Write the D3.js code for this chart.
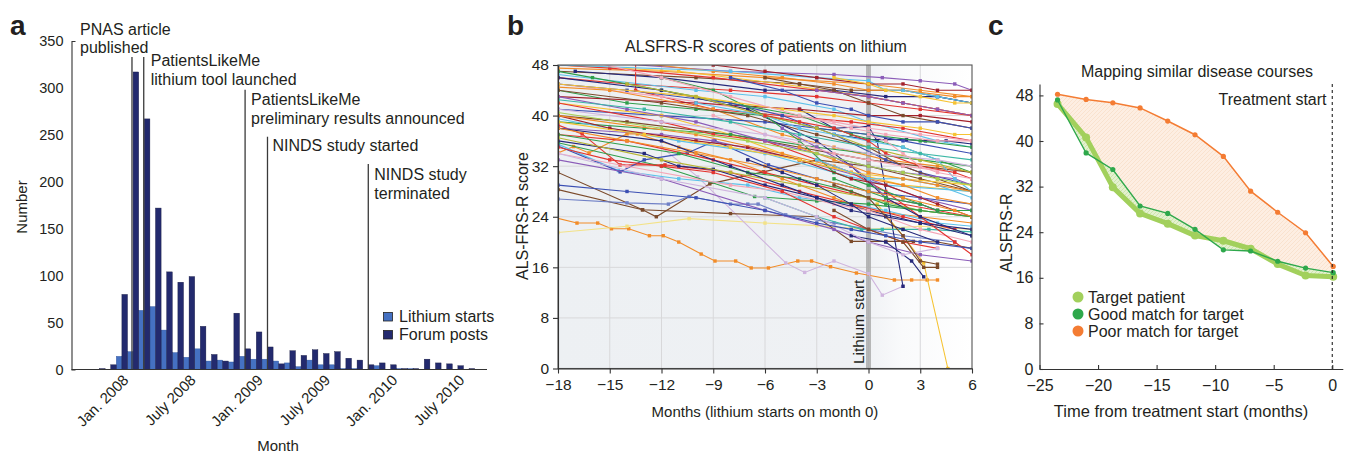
<!DOCTYPE html>
<html><head><meta charset="utf-8">
<script src="https://cdn.jsdelivr.net/npm/d3@7"></script>
<style>
body{margin:0;background:#fff}
svg{display:block}
text{font-family:"Liberation Sans",Arial,Helvetica,sans-serif;fill:#231f20}
</style>
</head><body>
<svg id="c" width="1346" height="454"></svg>
<script>
// ---------------- Panel a data ----------------
const monthKeys = ["2007-10","2007-11","2007-12",
 "2008-01","2008-02","2008-03","2008-04","2008-05","2008-06","2008-07","2008-08","2008-09","2008-10","2008-11","2008-12",
 "2009-01","2009-02","2009-03","2009-04","2009-05","2009-06","2009-07","2009-08","2009-09","2009-10","2009-11","2009-12",
 "2010-01","2010-02","2010-03","2010-04","2010-05","2010-06","2010-07"];
const lithiumStarts = [0,0,14,19,63,67,42,18,13,22,9,10,8,14,11,11,9,7,3,10,5,5,1,1,0,4,0,1,1,0,0,0,0,0];
const forumPosts    = [1,5,80,317,267,172,104,93,99,46,16,9,60,22,40,24,6,20,15,21,17,19,12,10,5,7,5,1,1,11,7,6,4,1];
const countTicks = [0,50,100,150,200,250,300,350];
const monthTickKeys = ["2008-01","2008-07","2009-01","2009-07","2010-01","2010-07"];
const monthTickLabels = ["Jan. 2008","July 2008","Jan. 2009","July 2009","Jan. 2010","July 2010"];
const eventLabels = [["PNAS article","published"],["PatientsLikeMe","lithium tool launched"],["PatientsLikeMe","preliminary results announced"],["NINDS study started"],["NINDS study","terminated"]];
const eventMonth = [3.4, 4.45, 13.5, 15.5, 24.5];   // fractional month index
const eventLevel = [333, 333, 298, 248, 219];        // top of marker line (count units)
const legendA = ["Lithium starts","Forum posts"];

// ---------------- Panel b data ----------------
const monthTicksB = [-18,-15,-12,-9,-6,-3,0,3,6];
const scoreTicksB = [0,8,16,24,32,40,48];
const patientSeries = [
 [[-18.1,23.8],[-16.9,23],[-15.7,23],[-14.9,22.1],[-13.9,22.1],[-12.7,21],[-11.9,21],[-11,20],[-9.7,18.1],[-8.9,17],[-7.7,17],[-6.8,15.9],[-5.8,15.9],[-4.1,17],[-3.3,17],[-2.2,16.1],[-0.7,15.1],[1.5,14],[2.5,14],[3.4,14],[4,14]],
 [[-18,21.5],[-14,22.5],[-10.4,23.7],[-6,23],[-3,22.6],[0,22],[3,22.5],[6,22]],
 [[0.5,26],[2,21],[3.2,16.7],[4.6,0]],
 [[-12,35],[-9.9,30.3],[-4.8,16.7],[-3.7,15.2],[-2,17],[0,15],[0.8,11.6],[2,13]],
 [[-18,31],[-13.1,25.1],[-12.3,24],[-9.2,29.2],[-6.1,31.1],[-3,33],[0,32],[3,30],[6,28]],
 [[-18,28.3],[-13.1,25.1],[-8,24.5],[-3,24],[-1,20.1],[1,20.1],[2.6,20.1],[4,20],[6,19]],
 [[-18,34.1],[-17.1,35.1],[-16.2,34.1],[-14,37.1],[-13.4,37.1],[-11,35],[-8,33],[-5,30],[-2,27],[0,25],[3,24],[6,23]],
 [[-18,35.5],[-14.5,31.3],[-11,30],[-7,29],[-4,27],[-1,26],[1,25],[4,23],[6,22.5]],
 [[-18,38.5],[-16.6,37.1],[-14.4,32.2],[-11.8,32.2],[-8,31],[-4,28],[-1,26],[2,24],[5,22]],
 [[-18,35.7],[-12,32],[-6.6,27.2],[-3,26.5],[0,26],[3,25],[6,24]],
 [[-18,35.2],[-14.4,31.1],[-13,33],[-10.5,34.1],[-8.9,36],[-5.8,32.2],[-3,30],[0,28],[3,27],[6,26]],
 [[-18,26.8],[-14,26.2],[-11.6,26],[-10.4,27.2],[-8,26],[-7,26],[-6.4,26],[-4.8,24.3],[-2,23],[0,22],[2,21],[5,20]],
 [[-4,41],[-2,38],[0,38.3],[0.5,36],[2,13]],
 [[-2,37],[0,36.2],[1,36.2],[2.2,36.2],[3.3,36],[4.5,36],[6,35.5]],
 [[-6,27],[-3,24],[-0.4,22],[0.8,22],[2,22],[3.5,22],[6,21.6]],
 [[-18,47.5],[-12,47],[-6,46],[0,45],[3,44],[6,43]],
 [[-18,47],[-10,46],[-4,45],[-1,44],[2,44],[4,43],[6,42]],
 [[-18,46],[-14,45],[-8,44],[-3,43],[0,42],[3,41],[6,40]],
 [[-16,48.5],[-8,47],[-2,46.5],[0.8,46],[3,45.5],[5,45],[6,44]],
 [[-18,48],[-11,47],[-5,45],[0,43],[2,42],[6,40]],
 [[-18,46.5],[-10,44],[-6,43],[-2,41],[0,39],[4,36],[6,35]],
 [[-17,47],[-12,46],[-6,44],[-2,44],[1,43],[4,43],[6,42]],
 [[-18,44],[-14,42],[-10,41],[-6,40],[-3,38],[0,37],[3,36],[6,35]],
 [[-13.5,48.5],[-13.5,44],[-9,41],[-5,40],[-1,39],[2,38],[6,36]],
 [[-18,45],[-12,43],[-7,41],[-2,39],[0,38],[3,37],[6,36]],
 [[-18,43],[-10,42],[-4,41],[0,40],[3,40],[6,39]],
 [[-18,44.5],[-15,44],[-9,41],[-5,37],[-2,35],[1,33],[4,32],[6,31]],
 [[-18,41],[-12,40],[-6,39],[-3,38],[0,37],[2,36],[6,34]],
 [[-18,40],[-14,39],[-8,37],[-4,35],[0,33],[3,32],[6,31]],
 [[-18,42],[-12,40],[-8,37],[-4,33],[-1,31],[2,29],[6,28]],
 [[-18,39],[-13,38],[-8,37],[-3,35],[0,34],[3,33],[6,32]],
 [[-18,39.5],[-15,38],[-11,36],[-6,34],[-2,31],[1,29],[6,28]],
 [[-18,38],[-12,37],[-9,36],[-4,33],[0,30],[3,27],[6,25]],
 [[-18,37],[-14,36],[-9,33],[-6,31],[-3,29],[0,27],[4,25],[6,24]],
 [[-18,36],[-13,34],[-11,32],[-9,31.5],[-6,29],[-3,27],[0,25],[3,23],[6,21]],
 [[-18,36.5],[-12,33],[-8,31],[-4,29],[0,27],[3,25],[6,24]],
 [[-18,34],[-14,32],[-8,29],[-5,28],[-2,26],[0,25],[3,22],[6,20]],
 [[-18,33],[-12,30],[-6,25],[-2,22],[0,20],[3,18],[6,17]],
 [[-18,48],[-15,47.5],[-9,46],[-3,44],[0,43],[2,42],[4,41],[6,40]],
 [[-18,47],[-16,46],[-12,44],[-8,42],[-4,40],[-1,37],[2,35],[4,33],[6,31]],
 [[-18,45],[-14,44],[-8,42],[-5,40],[-2,37],[1,33],[3,31],[6,29]],
 [[-14,48.5],[-9,47],[-5,46],[-2,45],[0,44],[2,44],[5,43],[6,43]],
 [[-18,48],[-8,47],[-3,46],[0,45.5],[1,44],[2,44],[4,43],[6,42]],
 [[-18,44],[-12,42],[-7,40],[-3,37],[0,35],[2,32],[4,30],[6,28]],
 [[-18,42],[-12,39],[-9,37],[-6,36],[-3,33],[-1,31],[1,28],[3,24],[5,20],[6,18]],
 [[-18,46],[-12,44],[-7,41],[-3,36],[-1,32],[1,27],[3,24],[6,21]],
 [[-12,46],[-9,44],[-6,40],[-4,36],[-2,31],[0,29],[2,27],[4,25],[6,25]],
 [[-18,45],[-10,43],[-5,41],[-2,40],[0,39],[3,38],[5,37],[6,37]],
 [[-18,43],[-14,41],[-10,39],[-6,36],[-3,34],[0,32],[2,31],[5,30],[6,29]],
 [[-16,48.5],[-12,46],[-8,43],[-4,40],[-1,38],[1,37],[4,36],[6,36]],
 [[-18,40],[-15,38],[-10,36],[-7,35],[-4,33],[-1,30],[1,29],[4,26],[6,24]],
 [[-10,42],[-6,40],[-4,38],[-2,37],[0,36],[2,35],[4,33],[5,30],[6,28]],
 [[-6,46],[-4,45],[-2,44],[0,42],[2,40],[4,39],[6,38]],
 [[-8,46],[-5,44],[-3,42],[-1,41],[0,40],[2,39],[4,39],[6,38]],
 [[-18,40],[-10,37],[-5,34],[-2,32],[0,30],[2,29],[4,27],[6,26]],
 [[-18,37],[-11,34],[-7,31],[-4,30],[-1,28],[1,26],[3,25],[6,24]],
 [[-18,35],[-15,33],[-12,32],[-9,31],[-5,28],[-2,24],[0,22],[2,20],[4,19]],
 [[-5,38],[-3,35],[-1,32],[0,30],[1,27],[3,26],[4,25]],
 [[-2,25],[0,22],[2,20],[3.2,16],[4,16]],
 [[-1,21],[1,20],[2.5,17],[3.2,14.5]],
 [[-18,39],[-13,37],[-8,35],[-4,33],[-1,31],[2,30],[6,29]],
 [[-3,33],[0,30],[2,30],[4,29],[6,27]],
 [[-14,45],[-10,43],[-6,40],[-3,38],[0,35],[3,33],[6,31]],
 [[-9,40],[-6,37],[-2,34],[0,33],[2,32],[5,31]],
 [[-18,38],[-12,36],[-8,32],[-5,29],[-3,27],[-1,25],[1,24],[3,23],[6,22]],
 [[-18,34],[-12,30],[-6,27],[-3,24],[0,20],[2,18],[4,19]],
 [[-6,40],[-4,39],[-2,38],[0,36],[1,34],[3,32],[5,31],[6,30]],
 [[-2,30],[0,28],[1,27],[3,26],[4,25],[6,25]],
 [[-4,35],[-2,33],[0,31],[2,30],[4,29],[6,28]],
 [[-18,29],[-14,28],[-10,27],[-6,25],[-3,23],[-1,22],[1,21],[3,20],[6,19]],
 [[-9,48],[-6,47],[-3,46],[0,45],[2,45],[4,44],[6,44]],
 [[-18,42.5],[-13,41],[-8,39],[-4,37],[0,35],[3,34],[6,33]],
 [[-18,40.5],[-12,38],[-7,36],[-3,34],[0,32],[2,31],[4,30],[6,29]],
 [[-3,44],[0,43],[2,42],[4,41],[6,40]],
 [[-18,38],[-14,36],[-10,34],[-6,32],[-3,30],[0,28],[2,27],[5,25],[6,24]],
 [[0,37],[1,36],[2,34],[3,32],[4,31],[6,30]],
 [[-2,46],[0,45],[1,44],[3,43],[5,42],[6,42]],
 [[-7,33],[-5,31],[-3,29],[-1,26],[0,24],[2,22],[4,20]],
 [[-2,29],[0,27],[2,21],[3,17],[4,16.5]],
 [[-18,41],[-12,39],[-6,37],[0,34],[4,33],[6,32]]
];
const patientColorKey = ["orange","paleyellow","yellow","lilac","brown","brown","orange","ltblue","red","green","blue","slate","navy","navy","teal",
 "orange","brown","red","purple","yellow","ltblue","navy","green","red","pink","darkred","orange","blue","brown","yellow","green","ltblue","purple","red","navy","olive","pink","purple",
 "red","green","blue","orange","ltblue","brown","red","navy","green","yellow","purple","pink","darkred","ltblue","brown","blue","orange","green","red","purple","brown","navy",
 "yellow","ltblue","olive","pink","navy","lilac","red","green","orange","blue","darkred","teal","ltgreen","purple","orange","pink","yellow","navy","brown","lilac"];

// ---------------- Panel c data ----------------
const cMonths = [-23.46,-21.02,-18.74,-16.41,-14.05,-11.72,-9.30,-6.97,-4.66,-2.28,0.08];
const targetScore = [46.5,40.6,31.9,27.3,25.5,23.4,22.5,21.1,18.4,16.4,16.2];
const goodScore   = [47.2,37.9,35.0,28.6,27.3,24.5,20.9,20.7,18.9,17.7,16.9];
const poorScore   = [48.2,47.3,46.7,45.8,43.5,41.1,37.3,31.2,27.5,23.9,18.0];
const monthTicksC = [-25,-20,-15,-10,-5,0];
const scoreTicksC = [0,8,16,24,32,40,48];
const legendC = ["Target patient","Good match for target","Poor match for target"];

// ---------------- drawing ----------------
const svg = d3.select("#c");
const defs = svg.append("defs");

function styleAxis(g, fs){
  g.selectAll(".domain").attr("stroke","#333").attr("stroke-width",1.1);
  g.selectAll(".tick line").attr("stroke","#333").attr("stroke-width",1.1);
  g.selectAll("text").attr("font-size",fs).attr("fill","#231f20")
   .attr("font-family",'"Liberation Sans",Arial,Helvetica,sans-serif');
}
function panelLetter(t,x,y){
  svg.append("text").attr("x",x).attr("y",y).attr("font-size",28).attr("font-weight","bold").text(t);
}

// ===== Panel a =====
(function(){
  const g = svg.append("g");
  const xA = d3.scaleLinear().domain([-2, 35.1]).range([71.5, 487]);
  const yA = d3.scaleLinear().domain([0, 350]).range([369.5, 41]);
  const bw = (xA(1) - xA(0)) / 2;
  const cLight = "#4571c2", cDark = "#232a6e";
  const idx = k => monthKeys.indexOf(k);

  g.selectAll("rect.ls").data(lithiumStarts).join("rect").attr("class","ls")
    .attr("x",(d,i)=>xA(i)).attr("width",bw).attr("y",d=>yA(d)).attr("height",d=>yA(0)-yA(d))
    .attr("fill",cLight).attr("stroke","#2d5299").attr("stroke-width",0.4);
  g.selectAll("rect.fp").data(forumPosts).join("rect").attr("class","fp")
    .attr("x",(d,i)=>xA(i)+bw).attr("width",bw).attr("y",d=>yA(d)).attr("height",d=>yA(0)-yA(d))
    .attr("fill",cDark).attr("stroke","#14173f").attr("stroke-width",0.4);

  const evLayout = [{x:80,dy:[-22,-4]},{dx:7,dy:[9,28]},{dx:6,dy:[15,34]},{dx:5,dy:[14]},{dx:6,dy:[16,35]}];
  eventMonth.forEach((m,i)=>{
    const x = xA(m), top = yA(eventLevel[i]);
    g.append("line").attr("x1",x).attr("x2",x).attr("y1",top).attr("y2",yA(0))
      .attr("stroke","#3a3a3a").attr("stroke-width",1.3);
    const L = evLayout[i];
    eventLabels[i].forEach((t,j)=>{
      g.append("text").attr("x", L.x !== undefined ? L.x : x + L.dx).attr("y", top + L.dy[j])
        .attr("font-size",16).text(t);
    });
  });

  const ya = g.append("g").attr("transform",`translate(${xA(-2)},0)`)
    .call(d3.axisLeft(yA).tickValues(countTicks).tickSizeInner(0).tickSizeOuter(-4).tickPadding(8));
  styleAxis(ya, 14.5);
  g.append("line").attr("x1",xA(-2)).attr("x2",xA(35.1)).attr("y1",yA(0)).attr("y2",yA(0))
    .attr("stroke","#333").attr("stroke-width",1.1);
  monthTickKeys.forEach((k,i)=>{
    const x = xA(idx(k)) + 2;
    g.append("text").attr("transform",`translate(${x},381) rotate(-45)`)
      .attr("text-anchor","end").attr("font-size",15).text(monthTickLabels[i]);
  });
  g.append("text").attr("x",278).attr("y",451).attr("text-anchor","middle").attr("font-size",15).text("Month");
  g.append("text").attr("transform","translate(27,207) rotate(-90)").attr("text-anchor","middle").attr("font-size",15).text("Number");

  [cLight,cDark].forEach((c,i)=>{
    g.append("rect").attr("x",383.5).attr("y",312.5+i*18).attr("width",9).attr("height",8.5)
      .attr("fill",c).attr("stroke","#222").attr("stroke-width",0.8);
    g.append("text").attr("x",399).attr("y",321.5+i*18).attr("font-size",16).text(legendA[i]);
  });
  panelLetter("a",10,35);
})();

// ===== Panel b =====
(function(){
  const g = svg.append("g");
  const xB = d3.scaleLinear().domain([-18,6]).range([558,972]);
  const yB = d3.scaleLinear().domain([0,48]).range([368.5,65]);
  const pal = {red:"#e3342f",darkred:"#a3202a",orange:"#f28c28",yellow:"#f6c333",paleyellow:"#f3e287",
    green:"#2f9e4a",ltgreen:"#a5cf4f",teal:"#3ab7a5",blue:"#3b4fb3",slate:"#7080c6",navy:"#25287a",
    ltblue:"#5cc1ea",purple:"#8b5cb8",lilac:"#cfb4de",pink:"#f4a6b7",brown:"#7b4a2b",olive:"#b8b534"};

  const grad = defs.append("linearGradient").attr("id","bgB").attr("x1",0).attr("x2",1).attr("y1",0).attr("y2",0);
  [[0,"#edf0f3"],[0.74,"#eff1f4"],[0.83,"#f9fafb"],[1,"#ffffff"]].forEach(s=>grad.append("stop").attr("offset",s[0]).attr("stop-color",s[1]));
  defs.append("clipPath").attr("id","clipB").append("rect")
    .attr("x",xB(-18)).attr("y",yB(48)).attr("width",xB(6)-xB(-18)).attr("height",yB(0)-yB(48));

  g.append("rect").attr("x",xB(-18)).attr("y",yB(48)).attr("width",xB(6)-xB(-18)).attr("height",yB(0)-yB(48))
    .attr("fill","url(#bgB)");
  monthTicksB.slice(1,-1).forEach(m=>g.append("line").attr("x1",xB(m)).attr("x2",xB(m)).attr("y1",yB(0)).attr("y2",yB(48))
    .attr("stroke","#d8d8da").attr("stroke-width",1));
  scoreTicksB.slice(1,-1).forEach(s=>g.append("line").attr("x1",xB(-18)).attr("x2",xB(6)).attr("y1",yB(s)).attr("y2",yB(s))
    .attr("stroke","#d8d8da").attr("stroke-width",1));
  g.append("rect").attr("x",xB(0)-2.5).attr("y",yB(48)).attr("width",5).attr("height",yB(0)-yB(48))
    .attr("fill","#a8a8a8").attr("opacity",0.8);

  const pg = g.append("g").attr("clip-path","url(#clipB)");
  const line = d3.line().x(d=>xB(d[0])).y(d=>yB(d[1]));
  patientSeries.forEach((s,i)=>{
    const c = pal[patientColorKey[i]] || "#888";
    pg.append("path").attr("d",line(s)).attr("fill","none").attr("stroke",c).attr("stroke-width",1.1);
    pg.selectAll(null).data(s).join("rect")
      .attr("x",d=>xB(d[0])-1.7).attr("y",d=>yB(d[1])-1.7).attr("width",3.4).attr("height",3.4).attr("fill",c);
  });

  g.append("text").attr("transform",`translate(${xB(0)-5},364) rotate(-90)`).attr("font-size",15.5).text("Lithium start");

  g.append("rect").attr("x",xB(-18)).attr("y",yB(48)).attr("width",xB(6)-xB(-18)).attr("height",yB(0)-yB(48))
    .attr("fill","none").attr("stroke","#555").attr("stroke-width",1.1);
  const ax = g.append("g").attr("transform",`translate(0,${yB(0)})`)
    .call(d3.axisBottom(xB).tickValues(monthTicksB).tickSizeInner(5).tickSizeOuter(0).tickPadding(5));
  styleAxis(ax, 15.5);
  const ay = g.append("g").attr("transform",`translate(${xB(-18)},0)`)
    .call(d3.axisLeft(yB).tickValues(scoreTicksB).tickSizeInner(5).tickSizeOuter(0).tickPadding(4));
  styleAxis(ay, 15.5);

  g.append("text").attr("x",766).attr("y",52).attr("text-anchor","middle").attr("font-size",16).text("ALSFRS-R scores of patients on lithium");
  g.append("text").attr("x",765).attr("y",417).attr("text-anchor","middle").attr("font-size",15).text("Months (lithium starts on month 0)");
  g.append("text").attr("transform","translate(528,216) rotate(-90)").attr("text-anchor","middle").attr("font-size",16).text("ALS-FRS-R score");
  panelLetter("b",507,35);
})();

// ===== Panel c =====
(function(){
  const g = svg.append("g");
  const xC = d3.scaleLinear().domain([-25,0.9]).range([1039.5,1342.8]);
  const yC = d3.scaleLinear().domain([0,50]).range([369,84]);
  const cT = "#a2d05c", cG = "#2ea84b", cP = "#f47c33";

  const p1 = defs.append("pattern").attr("id","hatchO").attr("patternUnits","userSpaceOnUse").attr("width",4).attr("height",4);
  p1.append("rect").attr("width",4).attr("height",4).attr("fill","#fdeee2");
  p1.append("path").attr("d","M0,4 L4,0").attr("stroke","#f8dcc6").attr("stroke-width",0.7);
  const p2 = defs.append("pattern").attr("id","hatchG").attr("patternUnits","userSpaceOnUse").attr("width",4).attr("height",4);
  p2.append("rect").attr("width",4).attr("height",4).attr("fill","#e4f1d0");
  p2.append("path").attr("d","M0,4 L4,0").attr("stroke","#c3de9c").attr("stroke-width",0.7);

  const idxs = d3.range(cMonths.length);
  const areaO = d3.area().x(i=>xC(cMonths[i])).y0(i=>yC(targetScore[i])).y1(i=>yC(poorScore[i]));
  const areaG = d3.area().x(i=>xC(cMonths[i])).y0(i=>yC(targetScore[i])).y1(i=>yC(goodScore[i]));
  g.append("path").attr("d",areaO(idxs)).attr("fill","url(#hatchO)");
  g.append("path").attr("d",areaG(idxs)).attr("fill","url(#hatchG)");

  const ln = arr => d3.line().x(i=>xC(cMonths[i])).y(i=>yC(arr[i]))(idxs);
  g.append("path").attr("d",ln(poorScore)).attr("fill","none").attr("stroke",cP).attr("stroke-width",1.5);
  g.selectAll(null).data(idxs).join("circle").attr("cx",i=>xC(cMonths[i])).attr("cy",i=>yC(poorScore[i])).attr("r",2.6).attr("fill",cP);
  g.append("path").attr("d",ln(targetScore)).attr("fill","none").attr("stroke",cT).attr("stroke-width",5).attr("stroke-linejoin","round");
  g.selectAll(null).data(idxs).join("circle").attr("cx",i=>xC(cMonths[i])).attr("cy",i=>yC(targetScore[i])).attr("r",4).attr("fill",cT);
  g.append("path").attr("d",ln(goodScore)).attr("fill","none").attr("stroke",cG).attr("stroke-width",1.4);
  g.selectAll(null).data(idxs).join("circle").attr("cx",i=>xC(cMonths[i])).attr("cy",i=>yC(goodScore[i])).attr("r",2.6).attr("fill",cG);

  g.append("line").attr("x1",xC(0)).attr("x2",xC(0)).attr("y1",yC(50)).attr("y2",yC(0))
    .attr("stroke","#222").attr("stroke-width",1.1).attr("stroke-dasharray","3,3");

  const ax = g.append("g").attr("transform",`translate(0,${yC(0)})`)
    .call(d3.axisBottom(xC).tickValues(monthTicksC).tickSizeInner(-4).tickSizeOuter(0).tickPadding(11));
  styleAxis(ax, 16);
  const ay = g.append("g").attr("transform",`translate(${xC(-25)},0)`)
    .call(d3.axisLeft(yC).tickValues(scoreTicksC).tickSizeInner(-4).tickSizeOuter(0).tickPadding(6));
  styleAxis(ay, 16);

  [cT,cG,cP].forEach((c,i)=>{
    g.append("circle").attr("cx",1078).attr("cy",297+i*17).attr("r",5.5).attr("fill",c);
    g.append("text").attr("x",1088).attr("y",302.5+i*17).attr("font-size",16).text(legendC[i]);
  });
  g.append("text").attr("x",1197).attr("y",77).attr("text-anchor","middle").attr("font-size",16).text("Mapping similar disease courses");
  g.append("text").attr("x",1326.5).attr("y",105).attr("text-anchor","end").attr("font-size",16).text("Treatment start");
  g.append("text").attr("x",1181).attr("y",417).attr("text-anchor","middle").attr("font-size",16.5).text("Time from treatment start (months)");
  g.append("text").attr("transform","translate(1012,233) rotate(-90)").attr("text-anchor","middle").attr("font-size",16).text("ALSFRS-R");
  panelLetter("c",988,35);
})();
</script>
</body></html>
